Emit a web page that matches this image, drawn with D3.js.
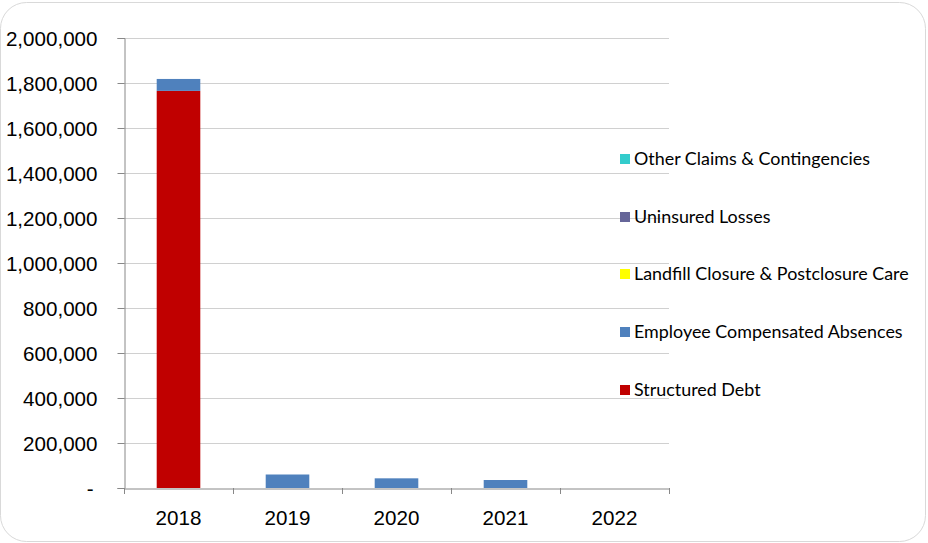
<!DOCTYPE html>
<html><head><meta charset="utf-8">
<script src="https://cdn.jsdelivr.net/npm/d3@7"></script>
<style>body{margin:0;background:#fff;} svg{display:block;font-family:Lato,"Open Sans",sans-serif;}</style>
</head><body>
<svg id="c" width="928" height="543"></svg>
<script>
const years = ["2018","2019","2020","2021","2022"];
const seriesNames = ["Structured Debt","Employee Compensated Absences","Landfill Closure & Postclosure Care","Uninsured Losses","Other Claims & Contingencies"];
const seriesColors = ["#C00000","#4F81BD","#FFFF00","#666699","#33CCCC"];
const structuredDebt = [1765000,0,0,0,0];
const employeeAbsences = [53000,60000,43000,35500,0];
const landfill = [0,0,0,0,0];
const uninsured = [0,0,0,0,0];
const otherClaims = [0,0,0,0,0];
const yTicks = [0,200000,400000,600000,800000,1000000,1200000,1400000,1600000,1800000,2000000];

const seriesValues = [structuredDebt,employeeAbsences,landfill,uninsured,otherClaims];
const rows = years.map((y,i)=>{const r={year:y}; seriesNames.forEach((s,j)=>r[s]=seriesValues[j][i]); return r;});
const stacked = d3.stack().keys(seriesNames)(rows);

const svg = d3.select("#c");
svg.append("rect").attr("x",0.5).attr("y",2.5).attr("width",925).attr("height",539).attr("rx",26)
  .attr("fill","#fff").attr("stroke","#d9d9d9").attr("stroke-width",1);

const L=124,R=669,T=38,B=488;
const x = d3.scaleBand().domain(years).range([L,R]).paddingInner(0.6).paddingOuter(0.3);
const xb = d3.scaleBand().domain(years).range([L,R]);
const y = d3.scaleLinear().domain([0,2000000]).range([B,T]);

// grid
svg.append("g").selectAll("line").data(yTicks.filter(d=>d>0)).join("line")
  .attr("x1",L).attr("x2",R).attr("y1",d=>Math.round(y(d))+0.5).attr("y2",d=>Math.round(y(d))+0.5)
  .attr("stroke","#d0d0d0").attr("stroke-width",1);

// bars
svg.append("g").selectAll("g").data(stacked).join("g").attr("fill",(d,i)=>seriesColors[i])
  .selectAll("rect").data(d=>d.filter(p=>p[1]-p[0]>0)).join("rect")
  .attr("x",d=>x(d.data.year)).attr("width",x.bandwidth())
  .attr("y",d=>y(d[1])).attr("height",d=>y(d[0])-y(d[1]));

// y axis
const yAxis = svg.append("g").attr("transform",`translate(${L+0.5},0)`)
  .call(d3.axisLeft(y).tickValues(yTicks).tickSize(7).tickPadding(20)
    .tickFormat(d=>d===0?"-":d3.format(",")(d)));
yAxis.select(".domain").attr("stroke","#888");
yAxis.selectAll(".tick line").attr("stroke","#888");
yAxis.selectAll("text").attr("font-size",20.6).attr("fill","#000").attr("dy","0.35em");
yAxis.select(".tick text").attr("dx",-4);

// x axis
const xAxis = svg.append("g").attr("transform",`translate(0,${B+0.5})`)
  .call(d3.axisBottom(xb).tickSize(0).tickPadding(29));
xAxis.select(".domain").attr("stroke","#888");
xAxis.selectAll("text").attr("font-size",20.6).attr("fill","#000").attr("dy","0.35em");
svg.append("g").selectAll("line").data(years.concat(["end"])).join("line")
  .attr("x1",(d,i)=>Math.round(L+i*xb.step())+0.5).attr("x2",(d,i)=>Math.round(L+i*xb.step())+0.5)
  .attr("y1",B).attr("y2",B+6).attr("stroke","#888");

// legend
const legendY = [390,332,274,217,159];
const lg = svg.append("g").selectAll("g").data(seriesNames).join("g")
  .attr("transform",(d,i)=>`translate(620,${legendY[i]})`);
lg.append("rect").attr("x",0).attr("y",-5).attr("width",10).attr("height",10).attr("fill",(d,i)=>seriesColors[i]);
lg.append("text").attr("x",14).attr("dy","0.35em").attr("font-size",17.9).attr("fill","#000").text(d=>d);
</script>
</body></html>
